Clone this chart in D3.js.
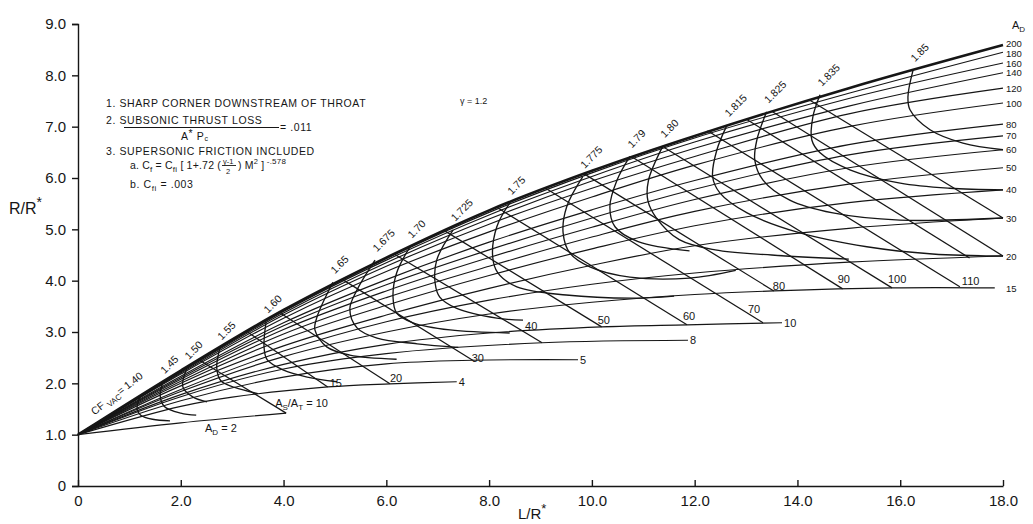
<!DOCTYPE html>
<html>
<head>
<meta charset="utf-8">
<script src="https://cdn.jsdelivr.net/npm/d3@7"></script>
<style>
  body { margin: 0; background: #fff; }
  svg { display: block; font-family: "Liberation Sans", Arial, sans-serif; }
</style>
</head>
<body>
<svg id="chart" width="1033" height="524"></svg>
<script>
// tick values
const xTicks = [0, 2, 4, 6, 8, 10, 12, 14, 16, 18];
const yTicks = [0, 1, 2, 3, 4, 5, 6, 7, 8, 9];

// A_D lines that run to the right edge, sampled at gridX
const gridX = [0, 2, 4, 6, 8, 10, 12, 15, 18];
const upperAd = [20, 30, 40, 50, 60, 70, 80, 100, 120, 140, 160, 180, 200];
const upperAdY = [
    [1, 1.88, 2.63, 3.20, 3.62, 3.93, 4.15, 4.36, 4.48],
    [1, 1.95, 2.73, 3.33, 3.85, 4.30, 4.68, 5.02, 5.22],
    [1, 2.00, 2.86, 3.52, 4.10, 4.62, 5.07, 5.52, 5.77],
    [1, 2.04, 2.96, 3.67, 4.28, 4.85, 5.35, 5.88, 6.20],
    [1, 2.08, 3.05, 3.80, 4.45, 5.04, 5.58, 6.20, 6.55],
    [1, 2.11, 3.12, 3.92, 4.60, 5.22, 5.78, 6.45, 6.82],
    [1, 2.14, 3.18, 4.02, 4.75, 5.38, 5.95, 6.65, 7.05],
    [1, 2.18, 3.27, 4.18, 4.95, 5.63, 6.25, 7.00, 7.46],
    [1, 2.20, 3.33, 4.28, 5.10, 5.80, 6.42, 7.25, 7.75],
    [1, 2.22, 3.37, 4.35, 5.20, 5.94, 6.58, 7.40, 8.05],
    [1, 2.23, 3.40, 4.40, 5.28, 6.03, 6.70, 7.55, 8.24],
    [1, 2.24, 3.42, 4.43, 5.33, 6.10, 6.78, 7.65, 8.45],
    [1, 2.25, 3.43, 4.45, 5.37, 6.14, 6.82, 7.75, 8.59]
];

// shorter A_D lines
const lowerAd = [2, 4, 5, 8, 10, 15];
const lowerAdPts = [
    [[0, 1], [2, 1.23], [4.05, 1.42]],
    [[0, 1], [2, 1.55], [3, 1.73], [4.86, 1.93], [6.07, 1.99], [7.37, 2.03]],
    [[0, 1], [2, 1.66], [4, 2.12], [6, 2.38], [7.68, 2.45], [9.73, 2.46]],
    [[0, 1], [2, 1.74], [4, 2.28], [6, 2.58], [9.03, 2.79], [11.87, 2.84]],
    [[0, 1], [2, 1.78], [4, 2.37], [6, 2.76], [8, 2.98], [10.19, 3.10], [11.85, 3.14], [13.7, 3.18]],
    [[0, 1], [2, 1.84], [4, 2.52], [6, 3.0], [8, 3.35], [10, 3.58], [12, 3.73], [13.54, 3.80], [15.84, 3.86], [17.84, 3.86]]
];

// exit area ratio lines As/At (straight)
const areaRatio = ["10", "15", "20", "30", "40", "50", "60", "70", "80", "90", "100", "110", "", "", ""];
const areaStart = [[2.35, 2.46], [3.3, 3.0], [3.95, 3.36], [5.15, 4.02], [6.15, 4.52], [7.12, 4.98],
    [8.15, 5.43], [9.1, 5.8], [9.85, 6.08], [10.8, 6.4], [11.4, 6.6], [12.25, 6.92],
    [13.0, 7.15], [13.5, 7.3], [14.25, 7.51]];
const areaEnd = [[4.05, 1.42], [4.86, 1.93], [6.07, 1.99], [7.68, 2.45], [9.03, 2.79], [10.19, 3.10],
    [11.85, 3.14], [13.33, 3.18], [13.54, 3.80], [14.88, 3.84], [15.84, 3.86], [17.16, 3.88],
    [17.35, 4.44], [18, 4.48], [18, 5.22]];

// constant vacuum thrust coefficient curves
const cfValues = ["1.40", "1.45", "1.50", "1.55", "1.60", "1.65", "1.675", "1.70", "1.725",
    "1.75", "1.775", "1.79", "1.80", "1.815", "1.825", "1.835", "1.85"];
const cfPts = [
    [[1.2, 1.73], [1.15, 1.5], [1.22, 1.38], [1.45, 1.3], [1.79, 1.27]],
    [[1.65, 2.02], [1.6, 1.75], [1.68, 1.55], [2.0, 1.42], [2.3, 1.38]],
    [[2.12, 2.3], [2.04, 1.93], [2.24, 1.73], [2.51, 1.64]],
    [[2.76, 2.68], [2.7, 2.3], [2.78, 2.05], [3.05, 1.92], [3.5, 1.8]],
    [[3.66, 3.2], [3.62, 2.71], [3.68, 2.46], [3.99, 2.26], [4.46, 2.12], [5.04, 2.03]],
    [[4.96, 3.97], [4.65, 3.29], [4.61, 3.04], [4.84, 2.71], [5.29, 2.55], [6.2, 2.47]],
    [[5.78, 4.4], [5.43, 3.82], [5.29, 3.45], [5.43, 3.08], [5.82, 2.88], [6.6, 2.77], [7.4, 2.7]],
    [[6.46, 4.66], [6.2, 4.15], [6.13, 3.68], [6.2, 3.37], [6.52, 3.18], [7.24, 3.04], [8.4, 2.98]],
    [[7.3, 4.99], [6.98, 4.4], [6.95, 3.95], [7.04, 3.68], [7.37, 3.46], [8.15, 3.27], [8.66, 3.23]],
    [[8.4, 5.51], [8.15, 5.05], [8.07, 4.46], [8.17, 4.15], [8.54, 3.88], [9.5, 3.72], [10.8, 3.66], [11.6, 3.7]],
    [[9.82, 6.02], [9.51, 5.44], [9.44, 4.93], [9.57, 4.54], [9.96, 4.27], [10.74, 4.07], [11.9, 4.05], [12.8, 4.2]],
    [[10.74, 6.42], [10.49, 5.96], [10.35, 5.44], [10.45, 5.05], [10.9, 4.76], [11.9, 4.58]],
    [[11.38, 6.62], [11.1, 5.95], [11.09, 5.56], [11.25, 5.23], [11.7, 4.8], [12.4, 4.6], [13.5, 4.5], [15, 4.42]],
    [[12.63, 7.03], [12.43, 6.54], [12.35, 6.02], [12.49, 5.71], [13.02, 5.32], [14.05, 4.93], [15.35, 4.66], [16.63, 4.52], [18, 4.48]],
    [[13.4, 7.29], [13.21, 6.74], [13.17, 6.35], [13.33, 5.96], [13.85, 5.57], [14.69, 5.32], [15.99, 5.18], [18, 5.22]],
    [[14.44, 7.62], [14.3, 7.19], [14.28, 6.74], [14.44, 6.49], [15.02, 6.16], [16.0, 5.9], [16.96, 5.8], [18, 5.77]],
    [[16.25, 8.1], [16.15, 7.58], [16.19, 7.33], [16.58, 6.94], [17.22, 6.68], [18, 6.55]]
];

// label nudges for the As/At numbers (pixels from the line end)
const areaLabelShift = [[-11, -6], [2, 0], [0, -2], [-1, 2], [-17, -13], [-4, -3], [-4, -5],
    [-15, -10], [-1, -1], [-5, -6], [-4, -5], [2, -2]];

const ink = "#161616";
const svg = d3.select("#chart");

const x = d3.scaleLinear().domain([0, 18]).range([78, 1003]);
const y = d3.scaleLinear().domain([0, 9]).range([486, 24]);

const line = d3.line()
    .x(d => x(d[0]))
    .y(d => y(d[1]))
    .curve(d3.curveCatmullRom.alpha(0.5));

const plot = svg.append("g").attr("fill", "none").attr("stroke", ink);

// A_D family
upperAd.forEach((ad, i) => {
    const pts = gridX.map((gx, j) => [gx, upperAdY[i][j]]);
    plot.append("path")
        .attr("d", line(pts))
        .attr("stroke-width", ad === 200 ? 2.6 : 1.15);
});
lowerAdPts.forEach(pts => {
    plot.append("path").attr("d", line(pts)).attr("stroke-width", 1.15);
});

// As/At diagonals
areaStart.forEach((s, i) => {
    plot.append("line")
        .attr("x1", x(s[0])).attr("y1", y(s[1]))
        .attr("x2", x(areaEnd[i][0])).attr("y2", y(areaEnd[i][1]))
        .attr("stroke-width", 1.25);
});

// Cf curves
cfPts.forEach(pts => {
    plot.append("path").attr("d", line(pts)).attr("stroke-width", 1.35);
});

// axes
const xAxis = svg.append("g")
    .attr("transform", "translate(0,486)")
    .call(d3.axisBottom(x).tickValues(xTicks).tickSizeInner(-6).tickSizeOuter(0).tickPadding(9)
        .tickFormat(d => d === 0 ? "0" : d.toFixed(1)));
const yAxis = svg.append("g")
    .attr("transform", "translate(78,0)")
    .call(d3.axisLeft(y).tickValues(yTicks).tickSize(6).tickPadding(6)
        .tickFormat(d => d === 0 ? "0" : d.toFixed(1)));

[xAxis, yAxis].forEach(g => {
    g.selectAll("path, line").attr("stroke", ink).attr("stroke-width", 1.4);
    g.selectAll("text").attr("fill", ink).attr("font-size", 15)
        .attr("font-family", "Liberation Sans, Arial, sans-serif");
});

const txt = svg.append("g").attr("fill", ink);

// axis titles
const yt = txt.append("text").attr("x", 9).attr("y", 214).attr("font-size", 16);
yt.append("tspan").text("R/R");
yt.append("tspan").attr("dy", -7).attr("font-size", 14).text("*");
const xt = txt.append("text").attr("x", 518).attr("y", 519).attr("font-size", 15);
xt.append("tspan").text("L/R");
xt.append("tspan").attr("dy", -6).attr("font-size", 13).text("*");

// right-edge A_D labels
const hd = txt.append("text").attr("x", 1012).attr("y", 29).attr("font-size", 11);
hd.append("tspan").text("A");
hd.append("tspan").attr("dy", 3).attr("font-size", 8).text("D");

upperAd.forEach((ad, i) => {
    const nudge = ad === 200 ? -1.5 : ad === 180 ? 1.5 : 0;
    txt.append("text")
        .attr("x", x(18) + 3).attr("y", y(upperAdY[i][gridX.length - 1]) + 3.5 + nudge)
        .attr("font-size", 9.5).text(ad);
});
lowerAd.forEach((ad, i) => {
    if (ad === 2) return;
    const end = lowerAdPts[i][lowerAdPts[i].length - 1];
    txt.append("text")
        .attr("x", ad === 15 ? x(18) + 3 : x(end[0]) + 2)
        .attr("y", y(end[1]) + 4)
        .attr("font-size", ad === 15 ? 9.5 : 11).text(ad);
});

// A_D = 2 label
const ad2 = txt.append("text").attr("x", 205).attr("y", 432).attr("font-size", 11);
ad2.append("tspan").text("A");
ad2.append("tspan").attr("dy", 3).attr("font-size", 8).text("D");
ad2.append("tspan").attr("dy", -3).text(" = 2");

// As/At labels
areaRatio.forEach((r, i) => {
    if (!r) return;
    const e = areaEnd[i];
    const sh = areaLabelShift[i];
    const t = txt.append("text")
        .attr("x", x(e[0]) + sh[0]).attr("y", y(e[1]) + sh[1])
        .attr("font-size", 11);
    if (i === 0) {
        t.append("tspan").text("A");
        t.append("tspan").attr("dy", 3).attr("font-size", 8).text("S");
        t.append("tspan").attr("dy", -3).text("/A");
        t.append("tspan").attr("dy", 3).attr("font-size", 8).text("T");
        t.append("tspan").attr("dy", -3).text(" = 10");
    } else {
        t.text(r);
    }
});

// Cf labels along the envelope
cfValues.forEach((c, i) => {
    const top = cfPts[i][0];
    const px = x(top[0]), py = y(top[1]);
    if (i === 0) {
        const t = txt.append("text")
            .attr("transform", `translate(${px + 4},${py - 20}) rotate(-38)`)
            .attr("text-anchor", "end").attr("font-size", 10.5);
        t.append("tspan").text("CF ");
        t.append("tspan").attr("dy", 3).attr("font-size", 8).text("VAC");
        t.append("tspan").attr("dy", -3).text("= 1.40");
        return;
    }
    txt.append("text")
        .attr("transform", `translate(${px + 2},${py - 8}) rotate(-45)`)
        .attr("font-size", 10.5).text(c);
});

// notes block
const notes = txt.append("g").attr("font-size", 10.5).attr("letter-spacing", 0.6);
notes.append("text").attr("x", 106).attr("y", 107)
    .text("1.  SHARP  CORNER DOWNSTREAM  OF  THROAT");
notes.append("text").attr("x", 106).attr("y", 124)
    .text("2.  SUBSONIC  THRUST  LOSS");
notes.append("line").attr("x1", 124).attr("x2", 279).attr("y1", 127.5).attr("y2", 127.5)
    .attr("stroke", ink).attr("stroke-width", 1);
notes.append("text").attr("x", 280).attr("y", 131).text("= .011");
const den = notes.append("text").attr("x", 181).attr("y", 139.5);
den.append("tspan").text("A");
den.append("tspan").attr("dy", -3).text("*");
den.append("tspan").attr("dy", 3).text(" P");
den.append("tspan").attr("dy", 1.5).attr("font-size", 7).text("c");
notes.append("text").attr("x", 106).attr("y", 154.5)
    .text("3.  SUPERSONIC  FRICTION  INCLUDED");

const fa = notes.append("text").attr("x", 130).attr("y", 169).attr("letter-spacing", 0.2);
fa.append("tspan").text("a.  C");
fa.append("tspan").attr("dy", 3).attr("font-size", 8).text("f");
fa.append("tspan").attr("dy", -3).text(" = C");
fa.append("tspan").attr("dy", 3).attr("font-size", 8).text("fi");
fa.append("tspan").attr("dy", -3).text(" [ 1+.72 (");
notes.append("text").attr("x", 223).attr("y", 163.5).attr("font-size", 7.5)
    .attr("letter-spacing", 0).text("γ-1");
notes.append("line").attr("x1", 222).attr("x2", 236).attr("y1", 165.5).attr("y2", 165.5)
    .attr("stroke", ink).attr("stroke-width", 0.9);
notes.append("text").attr("x", 226).attr("y", 173.5).attr("font-size", 7.5).text("2");
const fb = notes.append("text").attr("x", 238).attr("y", 169).attr("letter-spacing", 0.2);
fb.append("tspan").text(") M");
fb.append("tspan").attr("dy", -5).attr("font-size", 7.5).text("2");
fb.append("tspan").attr("dy", 5).text(" ]");
fb.append("tspan").attr("dy", -5).attr("font-size", 8).text("  -.578");

const fc = notes.append("text").attr("x", 130).attr("y", 188);
fc.append("tspan").text("b.  C");
fc.append("tspan").attr("dy", 3).attr("font-size", 8).text("fi");
fc.append("tspan").attr("dy", -3).text(" = .003");

txt.append("text").attr("x", 460).attr("y", 104).attr("font-size", 9).text("γ = 1.2");
</script>
</body>
</html>
